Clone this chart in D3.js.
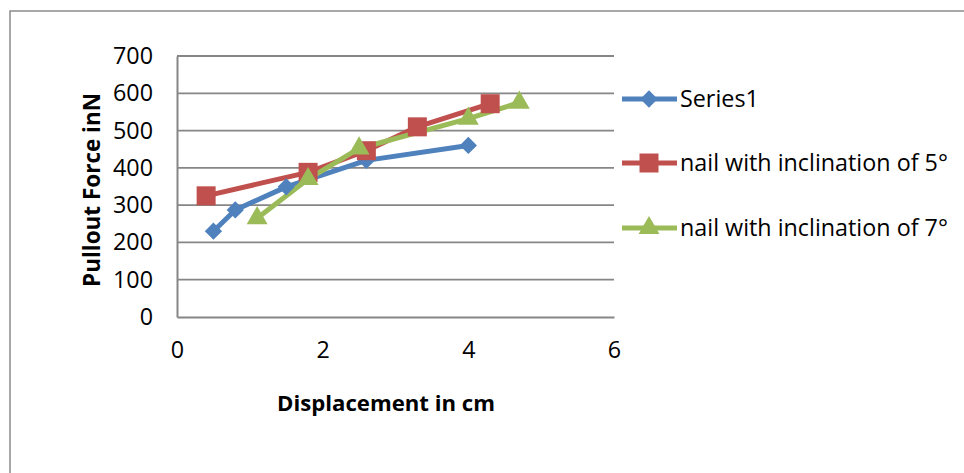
<!DOCTYPE html>
<html><head><meta charset="utf-8">
<script src="https://cdn.jsdelivr.net/npm/d3@7"></script>
<style>html,body{margin:0;padding:0;background:#fff;overflow:hidden}</style>
</head><body>
<script>
const seriesNames = ["Series1", "nail with inclination of 5°", "nail with inclination of 7°"];
const series1X = [0.5, 0.8, 1.5, 2.6, 4.0];
const series1Y = [230, 287, 349, 420, 460];
const incl5X = [0.4, 1.8, 2.6, 3.3, 4.3];
const incl5Y = [325, 388, 446, 510, 572];
const incl7X = [1.1, 1.8, 2.5, 4.0, 4.7];
const incl7Y = [265, 370, 452, 532, 575];
const xTicks = [0, 2, 4, 6];
const yTicks = [0, 100, 200, 300, 400, 500, 600, 700];
const colors = ["#4F81BD", "#C0504D", "#9BBB59"];
const symbols = [d3.symbolDiamond2, d3.symbolSquare, d3.symbolTriangle];

const W = 964, H = 473;
const svg = d3.select("body").append("svg").attr("width", W).attr("height", H);
const font = "'Open Sans', sans-serif";

// fit font size so a given string has the target width
function fitSize(str, target, bold) {
  const t = svg.append("text").attr("font-family", font).attr("font-size", 20)
    .attr("font-weight", bold ? "bold" : "normal").text(str);
  const w = t.node().getComputedTextLength();
  t.remove();
  return 20 * target / w;
}
const tickSize = fitSize("700", 40, false);
const legSize = fitSize("nail with inclination of 5°", 268, false);
const xTitleSize = fitSize("Displacement in cm", 218, true);
const yTitleSize = fitSize("Pullout Force inN", 194, true);

svg.append("rect").attr("x", 10).attr("y", 11).attr("width", W).attr("height", H)
  .attr("fill", "none").attr("stroke", "#8c8c8c").attr("stroke-width", 1.5);

const x = d3.scaleLinear().domain([0, 6]).range([177, 614]);
const y = d3.scaleLinear().domain([0, 700]).range([317, 56]);

// gridlines
svg.append("g").selectAll("line").data(yTicks.filter(d => d > 0)).join("line")
  .attr("x1", x(0)).attr("x2", x(6)).attr("y1", d => y(d)).attr("y2", d => y(d))
  .attr("stroke", "#868686").attr("stroke-width", 1.8);

// axes
const yAxis = svg.append("g").attr("transform", `translate(${x(0)},0)`)
  .call(d3.axisLeft(y).tickValues(yTicks).tickFormat(d3.format("d")).tickSize(0).tickPadding(24));
const xAxis = svg.append("g").attr("transform", `translate(0,${y(0)})`)
  .call(d3.axisBottom(x).tickValues(xTicks).tickFormat(d3.format("d")).tickSize(0).tickPadding(24));
[yAxis, xAxis].forEach(g => {
  g.select(".domain").attr("stroke", "#868686").attr("stroke-width", 2);
  g.selectAll("text").attr("font-family", font).attr("font-size", tickSize).attr("fill", "#000");
});
xAxis.selectAll("text").attr("dy", "0").attr("y", 35).attr("dominant-baseline", "middle");

const data = [
  series1X.map((v, i) => [v, series1Y[i]]),
  incl5X.map((v, i) => [v, incl5Y[i]]),
  incl7X.map((v, i) => [v, incl7Y[i]])
];
const sizes = [190, 361, 190];
const line = d3.line().x(d => x(d[0])).y(d => y(d[1]));

data.forEach((pts, si) => {
  svg.append("path").attr("d", line(pts)).attr("fill", "none")
    .attr("stroke", colors[si]).attr("stroke-width", 5).attr("stroke-linejoin", "round");
});
data.forEach((pts, si) => {
  svg.append("g").selectAll("path").data(pts).join("path")
    .attr("transform", d => `translate(${x(d[0])},${y(d[1])})`)
    .attr("d", d3.symbol().type(symbols[si]).size(sizes[si]))
    .attr("fill", colors[si]);
});

// legend
const legY = [99, 163, 228];
seriesNames.forEach((name, i) => {
  const g = svg.append("g").attr("transform", `translate(0,${legY[i]})`);
  g.append("line").attr("x1", 622).attr("x2", 677).attr("stroke", colors[i]).attr("stroke-width", 5);
  g.append("path").attr("transform", "translate(649,0)")
    .attr("d", d3.symbol().type(symbols[i]).size(sizes[i])).attr("fill", colors[i]);
  g.append("text").attr("x", 680).attr("dy", "0.35em").text(name)
    .attr("font-family", font).attr("font-size", legSize).attr("fill", "#000");
});

// axis titles
svg.append("text").attr("transform", "translate(92,190) rotate(-90)")
  .attr("text-anchor", "middle").attr("dy", "0.35em").attr("font-weight", "bold")
  .attr("font-family", font).attr("font-size", yTitleSize).text("Pullout Force inN");
svg.append("text").attr("x", 386).attr("y", 403).attr("dy", "0.35em")
  .attr("text-anchor", "middle").attr("font-weight", "bold")
  .attr("font-family", font).attr("font-size", xTitleSize).text("Displacement in cm");
</script>
</body></html>
